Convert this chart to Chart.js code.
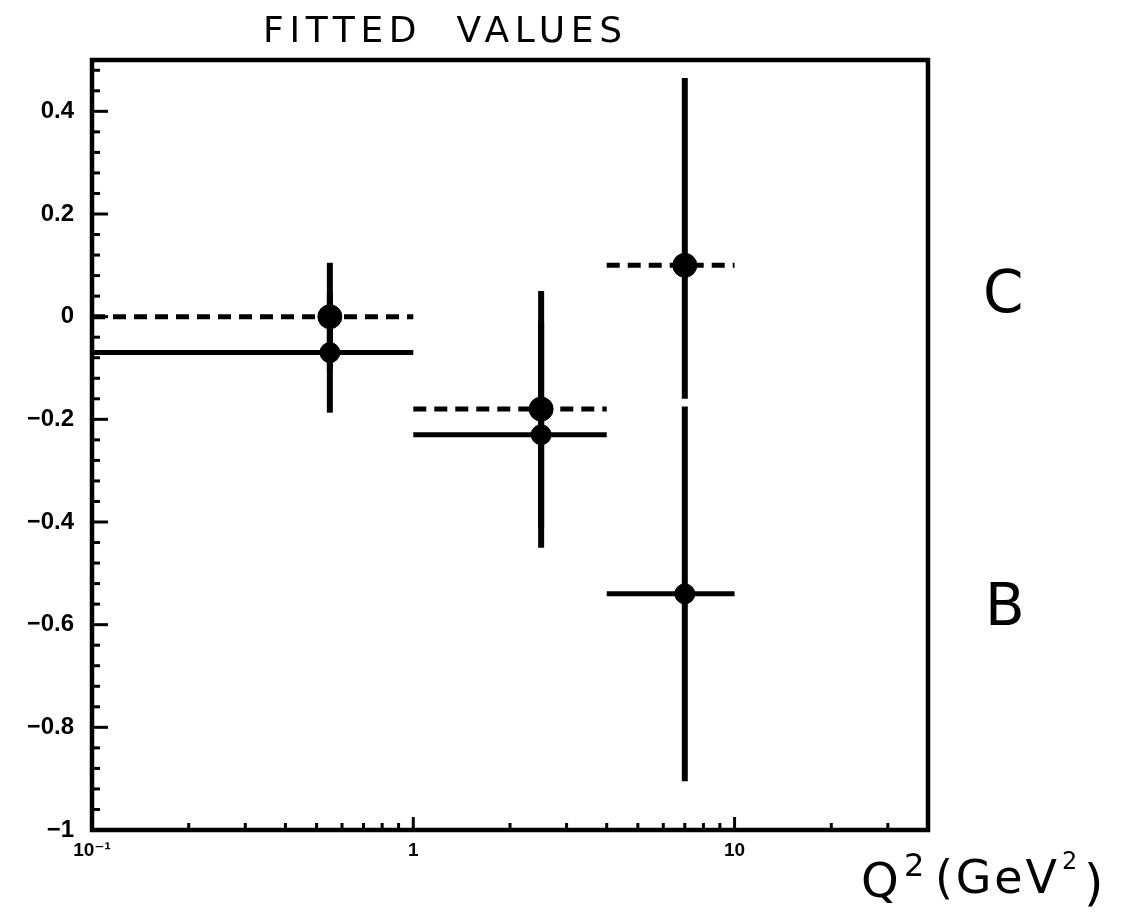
<!DOCTYPE html>
<html>
<head>
<meta charset="utf-8">
<script src="https://cdn.jsdelivr.net/npm/chart.js@4/dist/chart.umd.min.js"></script>
<style>
  html, body { margin: 0; padding: 0; background: #fff; }
  #wrap { width: 1127px; height: 913px; }
</style>
</head>
<body>
<div id="wrap"><canvas id="c" width="1127" height="913"></canvas></div>
<script>
// Q^2 bins (GeV^2): edges and mean Q^2 of each bin
const qBinLow  = [0.1, 1.0, 4.0];
const qBinHigh = [1.0, 4.0, 10.0];
const qMean    = [0.55, 2.5, 7.0];

// Fitted parameter C (dashed) with the ends of its error bar
const cValue = [0.0, -0.18, 0.10];
const cLow   = [-0.105, -0.41, -0.16];
const cHigh  = [0.105, 0.05, 0.465];

// Fitted parameter B (solid) with the ends of its error bar
const bValue = [-0.07, -0.23, -0.54];
const bLow   = [-0.187, -0.45, -0.905];
const bHigh  = [0.047, -0.01, -0.175];

// Axis ranges and labelled ticks
const xRange = [0.1, 40];
const yRange = [-1, 0.5];
const xLabelTicks = [0.1, 1, 10];
const xLabelText  = ['10\u207B\u00B9', '1', '10'];
const yLabelTicks = [-1, -0.8, -0.6, -0.4, -0.2, 0, 0.2, 0.4];
const yMinorStep = 0.04;

const INK = '#000';

function segment(p0, p1, dashed, width) {
  return {
    type: 'scatter',
    data: [p0, p1],
    showLine: true,
    borderColor: INK,
    borderWidth: width,
    borderDash: dashed ? [13, 8] : [],
    borderCapStyle: 'butt',
    pointRadius: 0,
    pointHoverRadius: 0,
    order: 1
  };
}

const datasets = [];
// markers on top
datasets.push({
  type: 'scatter', label: 'C',
  data: qMean.map((q, i) => ({ x: q, y: cValue[i] })),
  backgroundColor: INK, borderColor: INK, pointRadius: 12, order: 0
});
datasets.push({
  type: 'scatter', label: 'B',
  data: qMean.map((q, i) => ({ x: q, y: bValue[i] })),
  backgroundColor: INK, borderColor: INK, pointRadius: 10, order: 0
});
qMean.forEach((q, i) => {
  // bin widths
  datasets.push(segment({ x: qBinLow[i], y: cValue[i] }, { x: qBinHigh[i], y: cValue[i] }, true, 5));
  datasets.push(segment({ x: qBinLow[i], y: bValue[i] }, { x: qBinHigh[i], y: bValue[i] }, false, 5));
  // vertical error bars
  datasets.push(segment({ x: q, y: cLow[i] }, { x: q, y: cHigh[i] }, false, 6));
  datasets.push(segment({ x: q, y: bLow[i] }, { x: q, y: bHigh[i] }, false, 6));
});

function buildXTicks() {
  const out = [];
  xLabelTicks.forEach(d => {
    out.push({ value: d, major: true });
    for (let m = 2; m <= 9; m++) {
      const v = +(m * d).toPrecision(3);
      if (v < xRange[1]) out.push({ value: v, major: false });
    }
  });
  return out;
}
function buildYTicks() {
  const out = [];
  const n = Math.round((yRange[1] - yRange[0]) / yMinorStep);
  for (let k = 0; k < n; k++) {
    const v = +(yRange[0] + k * yMinorStep).toFixed(4);
    const major = yLabelTicks.some(t => Math.abs(t - v) < 1e-6);
    out.push({ value: v, major });
  }
  return out;
}

const frameAndNotes = {
  id: 'frameAndNotes',
  afterDraw(chart) {
    const { ctx, chartArea: a, scales: { x, y } } = chart;
    ctx.save();
    ctx.strokeStyle = INK;
    ctx.fillStyle = INK;
    ctx.lineCap = 'butt';

    // inward tick marks
    ctx.lineWidth = 3;
    y.ticks.forEach(t => {
      const py = y.getPixelForValue(t.value);
      const len = t.major ? 16 : 8;
      ctx.beginPath(); ctx.moveTo(a.left, py); ctx.lineTo(a.left + len, py); ctx.stroke();
    });
    x.ticks.forEach(t => {
      const px = x.getPixelForValue(t.value);
      const len = t.major ? 13 : 7;
      ctx.beginPath(); ctx.moveTo(px, a.bottom); ctx.lineTo(px, a.bottom - len); ctx.stroke();
    });

    // frame
    ctx.lineWidth = 4.5;
    ctx.strokeRect(a.left, a.top, a.right - a.left, a.bottom - a.top);

    // hand-lettered title and labels
    const hand = '"DejaVu Sans", "Open Sans", sans-serif';
    ctx.textBaseline = 'alphabetic';
    ctx.textAlign = 'left';

    function spaced(text, font, x0, base, width) {
      ctx.font = font;
      if ('letterSpacing' in ctx) {
        ctx.letterSpacing = '0px';
        const w = ctx.measureText(text).width;
        const sp = (width - w) / Math.max(1, text.length - 1);
        ctx.letterSpacing = sp.toFixed(2) + 'px';
        ctx.fillText(text, x0, base);
        ctx.letterSpacing = '0px';
      } else {
        ctx.fillText(text, x0, base, width);
      }
    }

    spaced('FITTED  VALUES', '36px ' + hand, 263, 42, 359);

    ctx.font = '58px ' + hand;
    ctx.fillText('C', 983, 312);
    ctx.fillText('B', 985, 625);

    ctx.font = '48px ' + hand;
    ctx.fillText('Q', 861, 897);
    ctx.font = '32px ' + hand;
    ctx.fillText('2', 904, 876);
    spaced('(GeV', '46px ' + hand, 935, 893, 122);
    ctx.font = '24px ' + hand;
    ctx.fillText('2', 1062, 869);
    ctx.font = '50px ' + hand;
    ctx.fillText(')', 1084, 900);

    ctx.restore();
  }
};

new Chart(document.getElementById('c'), {
  type: 'scatter',
  data: { datasets },
  options: {
    responsive: false,
    animation: false,
    events: [],
    layout: { padding: { left: 28, top: 60, right: 199, bottom: 43 } },
    plugins: { legend: { display: false }, tooltip: { enabled: false }, title: { display: false } },
    scales: {
      x: {
        type: 'logarithmic',
        min: xRange[0], max: xRange[1],
        grid: { display: false, drawTicks: false },
        border: { display: false },
        afterBuildTicks: s => { s.ticks = buildXTicks(); },
        afterFit: s => { s.height = 40; },
        ticks: {
          autoSkip: false, maxRotation: 0, minRotation: 0, padding: 9,
          color: INK,
          font: { family: '"Liberation Sans", "DejaVu Sans", sans-serif', size: 19, weight: 'bold' },
          callback: v => {
            const i = xLabelTicks.findIndex(t => Math.abs(t - v) < 1e-9);
            return i >= 0 ? xLabelText[i] : '';
          }
        }
      },
      y: {
        type: 'linear',
        min: yRange[0], max: yRange[1],
        grid: { display: false, drawTicks: false },
        border: { display: false },
        afterBuildTicks: s => { s.ticks = buildYTicks(); },
        afterFit: s => { s.width = 64; },
        ticks: {
          autoSkip: false, padding: 18,
          color: INK,
          font: { family: '"Liberation Sans", "DejaVu Sans", sans-serif', size: 24, weight: 'bold' },
          callback: v => {
            const t = yLabelTicks.find(t => Math.abs(t - v) < 1e-6);
            if (t === undefined) return '';
            return t < 0 ? '\u2212' + String(Math.abs(t)) : String(t);
          }
        }
      }
    }
  },
  plugins: [frameAndNotes]
});
</script>
</body>
</html>
